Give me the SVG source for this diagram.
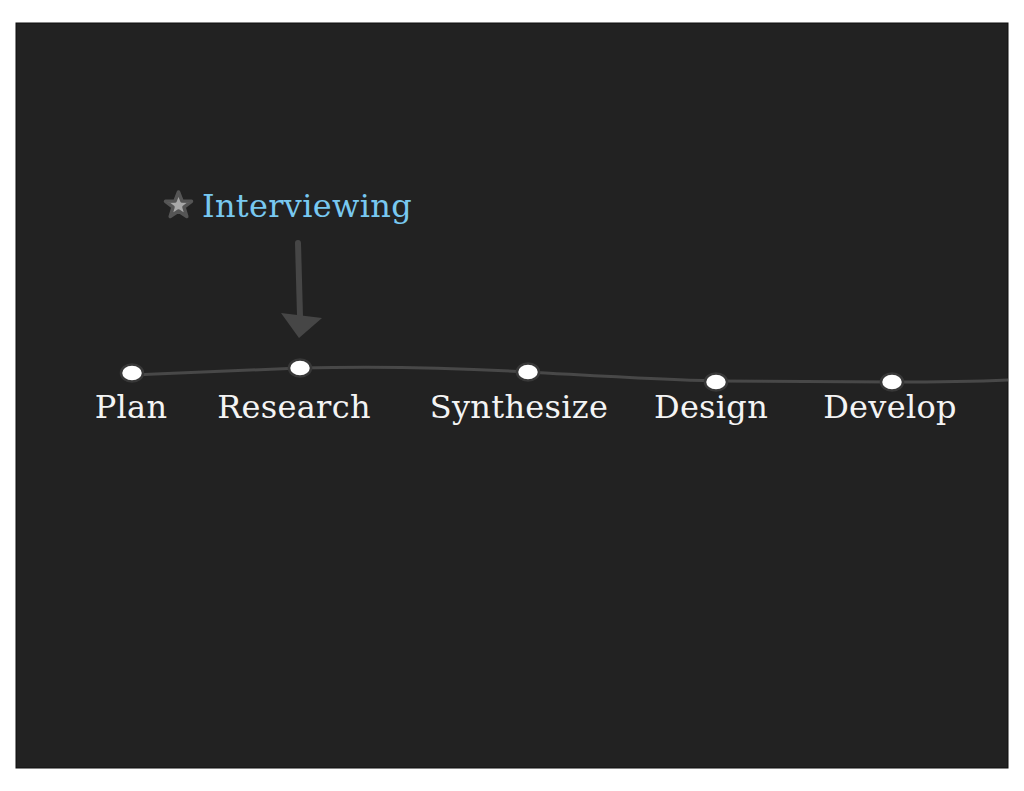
<svg xmlns="http://www.w3.org/2000/svg" width="1024" height="791" viewBox="0 0 1024 791">
<style>
.lbl{font-family:"DejaVu Serif","Liberation Serif",serif;font-size:32px;fill:#f4f4f4;text-anchor:middle;letter-spacing:0.3px}
.node{fill:#ffffff;stroke:#383838;stroke-width:2.5}
.line{fill:none;stroke:#484848;stroke-width:3}
</style>
<rect x="0" y="0" width="1024" height="791" fill="#ffffff"/>
<rect x="16" y="23" width="992" height="745" fill="#222222" stroke="#0e0e0e" stroke-width="1"/>
<g id="connectors">
<path class="line" d="M132,375 L300,368 C380,366 460,368 528,372 C600,376 660,380 716,381 C800,382 850,382 892,382 C950,382 985,381 1008,380"/>
<path d="M298,243 L300,316" fill="none" stroke="#464646" stroke-width="6" stroke-linecap="round"/>
<polygon points="281,313 322,318 299,338" fill="#464646"/>
</g>
<g id="interviewing">
<polygon points="178.5,192 182,201 191.5,201.3 184,207.2 186.8,216.5 178.5,211 170.2,216.5 173,207.2 165.5,201.3 175,201" fill="#a8a8a8" stroke="#555555" stroke-width="3.5" stroke-linejoin="round"/>
<text x="202" y="217" font-family="'DejaVu Serif','Liberation Serif',serif" font-size="32" letter-spacing="0.3" fill="#78c8f0">Interviewing</text>
</g>
<g id="plan"><ellipse class="node" cx="132" cy="373" rx="11" ry="8.5"/><text class="lbl" x="131" y="418">Plan</text></g>
<g id="research"><ellipse class="node" cx="300" cy="368" rx="11" ry="8.5"/><text class="lbl" x="294" y="418">Research</text></g>
<g id="synthesize"><ellipse class="node" cx="528" cy="372" rx="11" ry="8.5"/><text class="lbl" x="519" y="418">Synthesize</text></g>
<g id="design"><ellipse class="node" cx="716" cy="382" rx="11" ry="8.5"/><text class="lbl" x="711" y="418">Design</text></g>
<g id="develop"><ellipse class="node" cx="892" cy="382" rx="11" ry="8.5"/><text class="lbl" x="890" y="418">Develop</text></g>
</svg>
